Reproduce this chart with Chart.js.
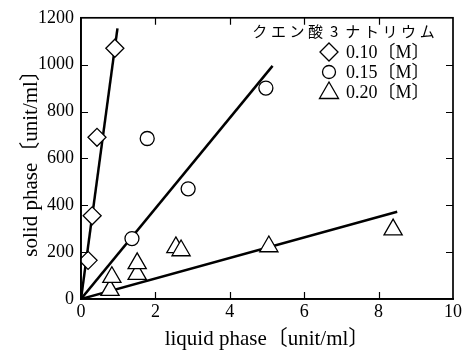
<!DOCTYPE html>
<html>
<head>
<meta charset="utf-8">
<script src="https://cdn.jsdelivr.net/npm/chart.js@4/dist/chart.umd.min.js"></script>
<style>
html,body{margin:0;padding:0;background:#fff;}
#wrap{width:465px;height:353px;position:relative;}
</style>
</head>
<body>
<div id="wrap"><canvas id="c" width="465" height="353"></canvas></div>
<script>
// ---- data ----
const diamondX = [0.19, 0.30, 0.43, 0.91];
const diamondY = [165, 355, 690, 1070];
const circleX = [1.37, 1.78, 2.88, 4.97];
const circleY = [258, 685, 470, 900];
const triX = [0.78, 0.83, 1.51, 1.51, 2.55, 2.69, 5.05, 8.39];
const triY = [38, 93, 106, 152, 220, 207, 224, 296];
// fitted lines (endpoints as drawn)
const fitDiamondX = [0, 0.98];
const fitDiamondY = [0, 1155];
const fitCircleX = [0, 5.15];
const fitCircleY = [0, 995];
const fitTriX = [0, 8.5];
const fitTriY = [0, 372];
// ticks and labels
const xTicks = [0, 2, 4, 6, 8, 10];
const yTicks = [0, 200, 400, 600, 800, 1000, 1200];
const seriesLabels = ['0.10〔M〕', '0.15〔M〕', '0.20〔M〕'];
const legendTitle = 'クエン酸3ナトリウム';
const xTitle = 'liquid phase〔unit/ml〕';
const yTitle = 'solid phase〔unit/ml〕';

const SERIF = '"Liberation Serif", "Noto Sans CJK JP", serif';
const pts = (xs, ys) => xs.map((x, i) => ({x: x, y: ys[i]}));

const markerStyles = [
  {pointStyle: 'rectRot', radius: 9},
  {pointStyle: 'circle', radius: 7},
  {pointStyle: 'triangle', radius: 10.5}
];

function markerDataset(label, xs, ys, m) {
  return {
    label: label, data: pts(xs, ys), showLine: false, order: 1,
    pointStyle: m.pointStyle, pointRadius: m.radius, pointHoverRadius: m.radius,
    pointBackgroundColor: '#fff', pointBorderColor: '#000', pointBorderWidth: 1.3
  };
}
function lineDataset(xs, ys) {
  return {
    label: '', data: pts(xs, ys), showLine: true, order: 2,
    borderColor: '#000', borderWidth: 2.5, pointRadius: 0, pointHoverRadius: 0, fill: false
  };
}

const frameTicks = {
  id: 'frameTicks',
  afterDatasetsDraw(chart) {
    const ctx = chart.ctx, a = chart.chartArea;
    const xs = chart.scales.x, ys = chart.scales.y;
    const L = 7;
    ctx.save();
    ctx.strokeStyle = '#000';
    ctx.lineWidth = 1.7;
    ctx.strokeRect(a.left, a.top, a.right - a.left, a.bottom - a.top);
    ctx.lineWidth = 1.2;
    ctx.beginPath();
    xTicks.forEach(v => {
      const px = Math.round(xs.getPixelForValue(v)) + 0.5;
      if (v === xTicks[0] || v === xTicks[xTicks.length - 1]) return;
      ctx.moveTo(px, a.bottom); ctx.lineTo(px, a.bottom - L);
      ctx.moveTo(px, a.top); ctx.lineTo(px, a.top + L);
    });
    yTicks.forEach(v => {
      const py = Math.round(ys.getPixelForValue(v)) + 0.5;
      if (v === yTicks[0] || v === yTicks[yTicks.length - 1]) return;
      ctx.moveTo(a.left, py); ctx.lineTo(a.left + L, py);
      ctx.moveTo(a.right, py); ctx.lineTo(a.right - L, py);
    });
    ctx.stroke();
    ctx.restore();
  }
};

function drawMarker(ctx, style, r, x, y) {
  ctx.beginPath();
  if (style === 'rectRot') {
    ctx.moveTo(x, y - r); ctx.lineTo(x + r, y); ctx.lineTo(x, y + r); ctx.lineTo(x - r, y); ctx.closePath();
  } else if (style === 'circle') {
    ctx.arc(x, y, r, 0, Math.PI * 2);
  } else {
    const a = Math.PI * 2 / 3;
    ctx.moveTo(x, y - r);
    ctx.lineTo(x + Math.sin(a) * r, y - Math.cos(a) * r);
    ctx.lineTo(x + Math.sin(2 * a) * r, y - Math.cos(2 * a) * r);
    ctx.closePath();
  }
  ctx.fill(); ctx.stroke();
}

const legendPlugin = {
  id: 'customLegend',
  afterDraw(chart) {
    const ctx = chart.ctx;
    ctx.save();
    ctx.fillStyle = '#000';
    ctx.textBaseline = 'alphabetic';
    ctx.font = '15px "Noto Sans CJK JP", sans-serif';
    const chars = Array.from(legendTitle);
    const x0 = 252, step = 18.6;
    chars.forEach((ch, i) => {
      const w = ctx.measureText(ch).width;
      ctx.fillText(ch, x0 + i * step + (step - 3 - w) / 2, 37);
    });
    const rows = [52, 72, 92];
    const legendR = [9, 6.5, 11];
    seriesLabels.forEach((lab, i) => {
      ctx.fillStyle = '#fff';
      ctx.strokeStyle = '#000';
      ctx.lineWidth = 1.3;
      drawMarker(ctx, markerStyles[i].pointStyle, legendR[i], 329, rows[i] + (i === 2 ? 1 : 0));
      ctx.fillStyle = '#000';
      ctx.font = '18px ' + SERIF;
      ctx.fillText(lab, 346, rows[i] + 6);
    });
    ctx.restore();
  }
};

new Chart(document.getElementById('c'), {
  type: 'scatter',
  data: {
    datasets: [
      markerDataset(seriesLabels[0], diamondX, diamondY, markerStyles[0]),
      markerDataset(seriesLabels[1], circleX, circleY, markerStyles[1]),
      markerDataset(seriesLabels[2], triX, triY, markerStyles[2]),
      lineDataset(fitDiamondX, fitDiamondY),
      lineDataset(fitCircleX, fitCircleY),
      lineDataset(fitTriX, fitTriY)
    ]
  },
  options: {
    responsive: false,
    devicePixelRatio: 1,
    animation: false,
    layout: {padding: {top: 14, right: 12, left: 0, bottom: 0}},
    plugins: {legend: {display: false}, tooltip: {enabled: false}},
    scales: {
      x: {
        type: 'linear', min: 0, max: 10,
        afterBuildTicks: s => { s.ticks = xTicks.map(v => ({value: v})); },
        afterFit: s => { s.height = 54; },
        ticks: {color: '#000', font: {family: SERIF, size: 18}, padding: 2, maxRotation: 0, autoSkip: false,
                callback: v => String(v)},
        grid: {display: false, drawTicks: false},
        border: {display: true, color: '#000', width: 1.7},
        title: {display: true, text: xTitle, color: '#000', font: {family: SERIF, size: 21}, padding: {top: 2, bottom: 1}}
      },
      y: {
        type: 'linear', min: 0, max: 1200,
        afterBuildTicks: s => { s.ticks = yTicks.map(v => ({value: v})); },
        afterFit: s => { s.width = 81; },
        ticks: {color: '#000', font: {family: SERIF, size: 18}, padding: 7, autoSkip: false,
                callback: v => String(v)},
        grid: {display: false, drawTicks: false},
        border: {display: true, color: '#000', width: 1.7},
        title: {display: true, text: yTitle, color: '#000', font: {family: SERIF, size: 21}, padding: {top: 19, bottom: 0}}
      }
    }
  },
  plugins: [frameTicks, legendPlugin]
});
</script>
</body>
</html>
